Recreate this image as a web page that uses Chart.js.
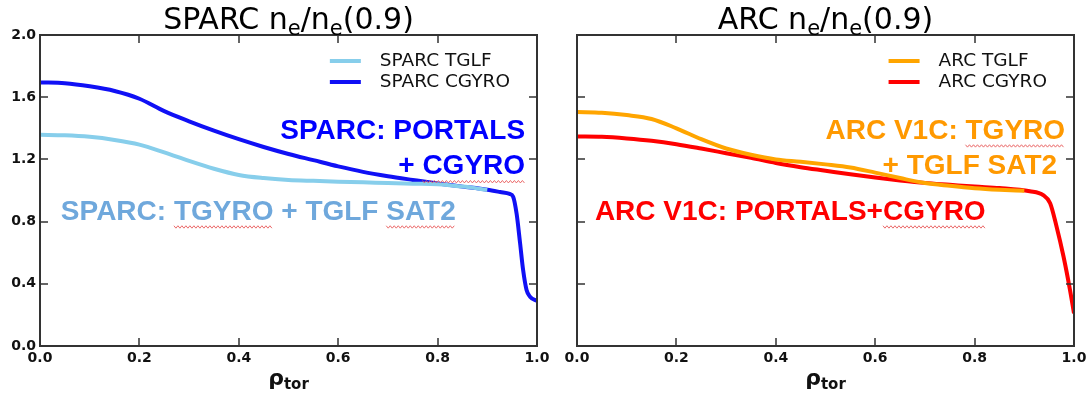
<!DOCTYPE html>
<html>
<head>
<meta charset="utf-8">
<script src="https://cdn.jsdelivr.net/npm/chart.js@4.4.1/dist/chart.umd.min.js"></script>
<style>
  body { margin: 0; background: #fff; }
  #wrap { position: relative; width: 1091px; height: 400px; overflow: hidden; font-family: "DejaVu Sans", sans-serif; }
  canvas { position: absolute; top: 0; }
  .title { position: absolute; top: 0; width: 497px; text-align: center; font-size: 30px; line-height: 38px; color: #000; white-space: nowrap; }
  .title .sub { font-size: 0.7em; position: relative; top: 0.28em; }
  .xlab { position: absolute; top: 364px; width: 497px; text-align: center; font-weight: bold; font-size: 22px; line-height: 28px; color: #111; }
  .xlab .sub { font-size: 15px; position: relative; top: 4px; }
</style>
</head>
<body>
<div id="wrap">
  <canvas id="chart-sparc" width="556" height="400" style="left:0"></canvas>
  <canvas id="chart-arc" width="546" height="400" style="left:545px"></canvas>
  <div class="title" style="left:40px">SPARC n<span class="sub">e</span>/n<span class="sub">e</span>(0.9)</div>
  <div class="title" style="left:577px">ARC n<span class="sub">e</span>/n<span class="sub">e</span>(0.9)</div>
  <div class="xlab" style="left:40px">ρ<span class="sub">tor</span></div>
  <div class="xlab" style="left:577px">ρ<span class="sub">tor</span></div>
</div>
<script>
// --- Data ---
const xTicks = [0, 0.2, 0.4, 0.6, 0.8, 1.0];
const yTicks = [0, 0.4, 0.8, 1.2, 1.6, 2.0];

const sparcRhoTglf = [0, 0.05, 0.1, 0.15, 0.2, 0.25, 0.3, 0.35, 0.4, 0.45, 0.5, 0.55, 0.6, 0.65, 0.7, 0.75, 0.8, 0.85, 0.9];
const sparcTglf    = [1.358, 1.355, 1.345, 1.325, 1.295, 1.245, 1.19, 1.14, 1.10, 1.08, 1.068, 1.062, 1.057, 1.053, 1.048, 1.044, 1.04, 1.025, 1.005];

const sparcRhoCgyro = [0, 0.05, 0.1, 0.15, 0.2, 0.25, 0.3, 0.35, 0.4, 0.45, 0.5, 0.55, 0.6, 0.65, 0.7, 0.75, 0.8, 0.85, 0.9, 0.926, 0.945, 0.952, 0.959, 0.966, 0.972, 0.979, 0.986, 1.0];
const sparcCgyro    = [1.695, 1.69, 1.67, 1.64, 1.59, 1.51, 1.445, 1.385, 1.33, 1.28, 1.235, 1.195, 1.155, 1.12, 1.092, 1.068, 1.045, 1.025, 1.005, 0.99, 0.978, 0.96, 0.85, 0.66, 0.49, 0.36, 0.317, 0.29];

const arcRhoTglf = [0, 0.05, 0.1, 0.15, 0.2, 0.25, 0.3, 0.35, 0.4, 0.45, 0.5, 0.55, 0.6, 0.65, 0.7, 0.75, 0.8, 0.85, 0.9];
const arcTglf    = [1.505, 1.50, 1.485, 1.46, 1.40, 1.33, 1.27, 1.23, 1.20, 1.185, 1.168, 1.148, 1.115, 1.08, 1.048, 1.03, 1.015, 1.005, 0.998];

const arcRhoCgyro = [0, 0.05, 0.1, 0.15, 0.2, 0.25, 0.3, 0.35, 0.4, 0.45, 0.5, 0.55, 0.6, 0.65, 0.7, 0.75, 0.8, 0.85, 0.911, 0.938, 0.952, 0.965, 0.979, 0.992, 1.0];
const arcCgyro    = [1.347, 1.345, 1.335, 1.32, 1.298, 1.27, 1.24, 1.21, 1.177, 1.15, 1.127, 1.104, 1.083, 1.065, 1.049, 1.037, 1.025, 1.016, 0.995, 0.97, 0.918, 0.767, 0.574, 0.36, 0.21];

const pts = (xs, ys) => xs.map((x, i) => ({ x, y: ys[i] }));

// --- Plugins ---
// matplotlib-style box with inward ticks on all four sides
const framePlugin = {
  id: 'frame',
  afterDraw(chart) {
    const { ctx, chartArea: a, scales: { x, y } } = chart;
    ctx.save();
    ctx.strokeStyle = '#333';
    ctx.lineWidth = 2;
    ctx.strokeRect(a.left, a.top, a.right - a.left, a.bottom - a.top);
    ctx.lineWidth = 1.5;
    ctx.beginPath();
    x.ticks.forEach(t => {
      const px = Math.round(x.getPixelForValue(t.value));
      if (px <= a.left + 1 || px >= a.right - 1) return;
      ctx.moveTo(px, a.bottom); ctx.lineTo(px, a.bottom - 8);
      ctx.moveTo(px, a.top);    ctx.lineTo(px, a.top + 8);
    });
    y.ticks.forEach(t => {
      const py = Math.round(y.getPixelForValue(t.value));
      if (py <= a.top + 1 || py >= a.bottom - 1) return;
      ctx.moveTo(a.left, py);  ctx.lineTo(a.left + 8, py);
      ctx.moveTo(a.right, py); ctx.lineTo(a.right - 8, py);
    });
    ctx.stroke();
    ctx.restore();
  }
};

// legend inside the axes, upper right
const boxLegendPlugin = {
  id: 'boxLegend',
  afterDraw(chart) {
    const { ctx, chartArea: a } = chart;
    const sets = chart.data.datasets;
    ctx.save();
    ctx.font = '18.5px "DejaVu Sans"';
    ctx.textBaseline = 'middle';
    const w = Math.max(...sets.map(d => ctx.measureText(d.label).width));
    const textX = a.right - 27 - w;
    sets.forEach((d, i) => {
      const y = a.top + 26 + i * 21;
      ctx.strokeStyle = d.borderColor;
      ctx.lineWidth = 4;
      ctx.beginPath();
      ctx.moveTo(textX - 50, y); ctx.lineTo(textX - 19, y);
      ctx.stroke();
      ctx.fillStyle = '#111';
      ctx.fillText(d.label, textX, y);
    });
    ctx.restore();
  }
};

function squiggle(ctx, x0, x1, y) {
  ctx.beginPath();
  for (let x = x0, k = 0; x <= x1; x += 2, k++) {
    const yy = y + (k % 2 ? 1.2 : -1.2);
    if (k === 0) ctx.moveTo(x, yy); else ctx.lineTo(x, yy);
  }
  ctx.stroke();
}

// text notes placed in data coordinates
const notesPlugin = {
  id: 'notes',
  afterDraw(chart, args, opts) {
    const { ctx, scales: { x, y } } = chart;
    ctx.save();
    ctx.font = 'bold 28px "Liberation Sans"';
    ctx.textBaseline = 'middle';
    (opts.items || []).forEach(n => {
      const px = x.getPixelForValue(n.x);
      const py = y.getPixelForValue(n.y);
      const w = ctx.measureText(n.text).width;
      const left = n.align === 'right' ? px - w : px;
      ctx.fillStyle = n.color;
      ctx.textAlign = 'left';
      ctx.fillText(n.text, left, py);
      ctx.strokeStyle = '#e85a5a';
      ctx.lineWidth = 0.9;
      (n.marks || []).forEach(word => {
        const idx = n.text.indexOf(word);
        const x0 = left + ctx.measureText(n.text.slice(0, idx)).width;
        const x1 = x0 + ctx.measureText(word).width;
        squiggle(ctx, x0, x1, py + 15);
      });
    });
    ctx.restore();
  }
};

// --- Charts ---
function makeChart(id, sets, cfg) {
  return new Chart(document.getElementById(id), {
    type: 'line',
    data: {
      datasets: sets.map(s => ({
        label: s.label,
        data: s.data,
        borderColor: s.color,
        borderWidth: 4,
        pointRadius: 0,
        cubicInterpolationMode: 'monotone',
        fill: false,
      }))
    },
    options: {
      animation: false,
      responsive: false,
      layout: { padding: { top: 35, right: cfg.padRight, left: 0, bottom: 0 } },
      plugins: {
        legend: { display: false },
        tooltip: { enabled: false },
        notes: { items: cfg.notes },
      },
      scales: {
        x: {
          type: 'linear', min: 0, max: 1,
          afterBuildTicks: s => { s.ticks = xTicks.map(v => ({ value: v })); },
          afterFit: s => { s.height = 54; },
          grid: { display: false, drawTicks: false },
          border: { display: false },
          ticks: { color: '#111', padding: 4, maxRotation: 0, font: { family: 'DejaVu Sans', size: 14, weight: 'bold' }, callback: v => v.toFixed(1) }
        },
        y: {
          type: 'linear', min: 0, max: 2,
          afterBuildTicks: s => { s.ticks = yTicks.map(v => ({ value: v })); },
          afterFit: s => { s.width = cfg.yWidth; },
          grid: { display: false, drawTicks: false },
          border: { display: false },
          ticks: { display: cfg.yLabels, color: '#111', padding: 4, font: { family: 'DejaVu Sans', size: 14, weight: 'bold' }, callback: v => v.toFixed(1) }
        }
      }
    },
    plugins: [framePlugin, boxLegendPlugin, notesPlugin]
  });
}

makeChart('chart-sparc', [
  { label: 'SPARC TGLF',  data: pts(sparcRhoTglf, sparcTglf),   color: '#87ceeb' },
  { label: 'SPARC CGYRO', data: pts(sparcRhoCgyro, sparcCgyro), color: '#1010f5' },
], {
  padRight: 19, yWidth: 40, yLabels: true,
  notes: [
    { text: 'SPARC: PORTALS', x: 0.976, y: 1.383, align: 'right', color: '#0000ff' },
    { text: '+ CGYRO', x: 0.976, y: 1.153, align: 'right', color: '#0000ff', marks: ['CGYRO'] },
    { text: 'SPARC: TGYRO + TGLF SAT2', x: 0.042, y: 0.862, align: 'left', color: '#6fa8dc', marks: ['TGYRO', 'SAT2'] },
  ]
});

makeChart('chart-arc', [
  { label: 'ARC TGLF',  data: pts(arcRhoTglf, arcTglf),   color: '#ffa500' },
  { label: 'ARC CGYRO', data: pts(arcRhoCgyro, arcCgyro), color: '#ff0000' },
], {
  padRight: 17, yWidth: 32, yLabels: false,
  notes: [
    { text: 'ARC V1C: TGYRO', x: 0.982, y: 1.383, align: 'right', color: '#ff9900', marks: ['TGYRO'] },
    { text: '+ TGLF SAT2', x: 0.966, y: 1.158, align: 'right', color: '#ff9900' },
    { text: 'ARC V1C: PORTALS+CGYRO', x: 0.036, y: 0.862, align: 'left', color: '#ff0000', marks: ['CGYRO'] },
  ]
});
</script>
</body>
</html>
